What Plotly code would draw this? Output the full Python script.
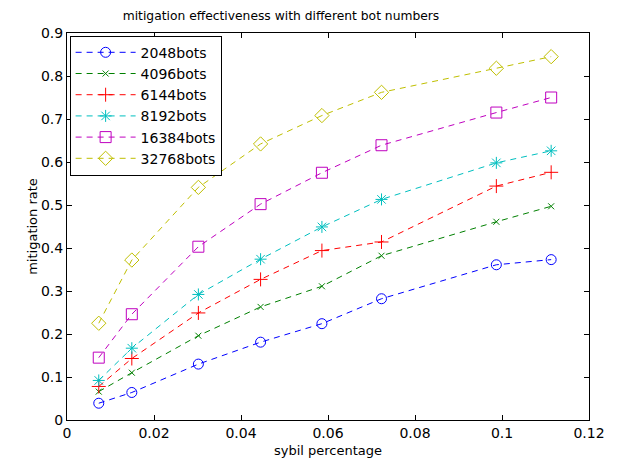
import plotly.graph_objects as go

x_vals = [0.0073, 0.0149, 0.0302, 0.0445, 0.0586, 0.0723, 0.0987, 0.1113]
bots_2048 = [0.039, 0.064, 0.130, 0.181, 0.224, 0.282, 0.361, 0.373]
bots_4096 = [0.066, 0.110, 0.196, 0.263, 0.311, 0.382, 0.461, 0.497]
bots_6144 = [0.078, 0.143, 0.249, 0.327, 0.394, 0.414, 0.544, 0.576]
bots_8192 = [0.092, 0.167, 0.292, 0.374, 0.449, 0.513, 0.598, 0.626]
bots_16384 = [0.145, 0.246, 0.403, 0.502, 0.575, 0.639, 0.715, 0.750]
bots_32768 = [0.225, 0.372, 0.541, 0.642, 0.708, 0.762, 0.818, 0.845]

names = ["2048bots", "4096bots", "6144bots", "8192bots", "16384bots", "32768bots"]
series = [bots_2048, bots_4096, bots_6144, bots_8192, bots_16384, bots_32768]
colors = ["#0000ff", "#008000", "#ff0000", "#00bfbf", "#bf00bf", "#bfbf00"]
symbols = ["circle-open", "x-thin-open", "cross-thin-open", "asterisk-open", "square-open", "diamond-open"]
sizes = [10, 6, 10, 10, 11, 11]

x_ticks = [0, 0.02, 0.04, 0.06, 0.08, 0.1, 0.12]
x_tick_labels = ["0", "0.02", "0.04", "0.06", "0.08", "0.1", "0.12"]
y_ticks = [0, 0.1, 0.2, 0.3, 0.4, 0.5, 0.6, 0.7, 0.8, 0.9]
y_tick_labels = ["0", "0.1", "0.2", "0.3", "0.4", "0.5", "0.6", "0.7", "0.8", "0.9"]

FONT = "DejaVu Sans"

fig = go.Figure()
for name, ys, c, s, sz in zip(names, series, colors, symbols, sizes):
    fig.add_trace(go.Scatter(
        x=x_vals, y=ys, name=name, mode="lines+markers",
        line=dict(color=c, width=1, dash="6px,5px"),
        marker=dict(symbol=s, size=sz, color=c, line=dict(color=c, width=1)),
    ))

axis_common = dict(
    showline=True, linecolor="black", linewidth=1, mirror="ticks",
    ticks="inside", ticklen=5, tickcolor="black", showgrid=False, zeroline=False,
    tickfont=dict(family=FONT, size=14, color="black"),
)

fig.update_layout(
    width=617, height=468,
    margin=dict(l=67, r=16, t=33, b=41),
    paper_bgcolor="white", plot_bgcolor="white",
    title=dict(text="mitigation effectiveness with different bot numbers",
               x=(124 + 438) / 2 / 617, xanchor="center", y=1 - 16 / 468, yanchor="middle",
               font=dict(family=FONT, size=12.3, color="black")),
    xaxis=dict(range=[0, 0.12], tickvals=x_ticks, ticktext=x_tick_labels,
               title=dict(text="sybil percentage", standoff=6,
                          font=dict(family=FONT, size=13, color="black")),
               **axis_common),
    yaxis=dict(range=[0, 0.9], tickvals=y_ticks, ticktext=y_tick_labels,
               title=dict(text="mitigation rate", standoff=0,
                          font=dict(family=FONT, size=13, color="black")),
               **axis_common),
    legend=dict(x=0.005, y=0.993, xanchor="left", yanchor="top",
                bgcolor="white", bordercolor="black", borderwidth=1,
                font=dict(family=FONT, size=14, color="black"),
                tracegroupgap=0, itemwidth=60),
    showlegend=True,
)

fig.write_html("out.html")
